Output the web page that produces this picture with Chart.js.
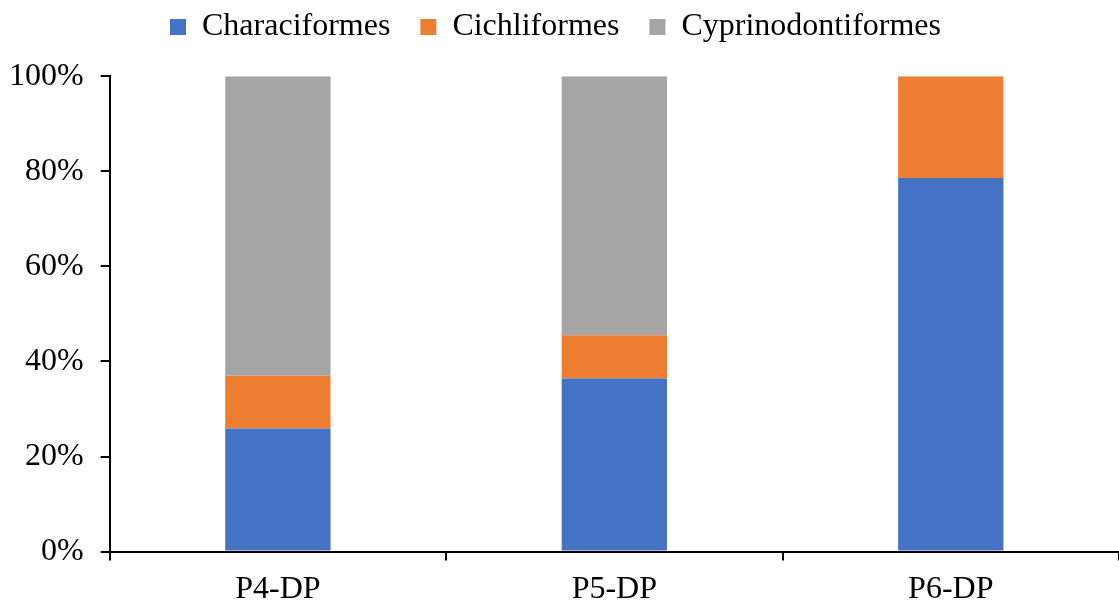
<!DOCTYPE html>
<html>
<head>
<meta charset="utf-8">
<script src="https://cdn.jsdelivr.net/npm/chart.js@4"></script>
<style>
html,body{margin:0;padding:0;background:#fff;}
#wrap{width:1119px;height:604px;position:relative;}
</style>
</head>
<body>
<div id="wrap"><canvas id="c" width="1119" height="604"></canvas></div>
<script>
const categories = ['P4-DP', 'P5-DP', 'P6-DP'];
const characiformes = [25.9, 36.4, 78.6];
const cichliformes = [11.1, 9.1, 21.4];
const cyprinodontiformes = [63.0, 54.5, 0];
const seriesNames = ['Characiformes', 'Cichliformes', 'Cyprinodontiformes'];
const seriesColors = ['#4472C4', '#ED7D31', '#A5A5A5'];
const yTicks = [0, 20, 40, 60, 80, 100];

const FONT = 'Liberation Serif, "Times New Roman", serif';
const FS = 32;

new Chart(document.getElementById('c'), {
  type: 'bar',
  data: {
    labels: categories,
    datasets: [characiformes, cichliformes, cyprinodontiformes].map((d, i) => ({
      label: seriesNames[i],
      data: d,
      backgroundColor: seriesColors[i],
      borderWidth: 0,
      categoryPercentage: 1,
      barPercentage: 0.313
    }))
  },
  options: {
    responsive: false,
    animation: false,
    devicePixelRatio: 1,
    layout: { padding: { left: -8, right: 0, top: -19, bottom: -15 } },
    plugins: {
      tooltip: { enabled: false },
      legend: {
        position: 'top',
        labels: {
          font: { family: FONT, size: FS },
          color: '#000',
          boxWidth: 16,
          boxHeight: 16,
          padding: 30
        }
      },
      subtitle: {
        display: true,
        text: '',
        position: 'top',
        weight: 500,
        font: { size: 1 },
        padding: { top: 0, bottom: 22 }
      }
    },
    scales: {
      x: {
        stacked: true,
        border: { display: true, color: '#000', width: 2 },
        grid: {
          display: true, drawOnChartArea: false, drawTicks: true, tickLength: 9,
          color: (ctx) => (ctx.index === categories.length ? 'rgba(0,0,0,0)' : '#000'),
          lineWidth: 2, offset: true
        },
        ticks: { font: { family: FONT, size: FS }, color: '#000', padding: 10 }
      },
      y: {
        stacked: true,
        min: 0,
        max: 100,
        afterBuildTicks: (scale) => { scale.ticks = yTicks.map(v => ({ value: v })); },
        border: { display: true, color: '#000', width: 2 },
        grid: { display: true, drawOnChartArea: false, drawTicks: true, tickLength: 9, color: '#000', lineWidth: 2 },
        ticks: { font: { family: FONT, size: FS }, color: '#000', padding: 17, callback: v => v + '%' }
      }
    }
  }
});
</script>
</body>
</html>
